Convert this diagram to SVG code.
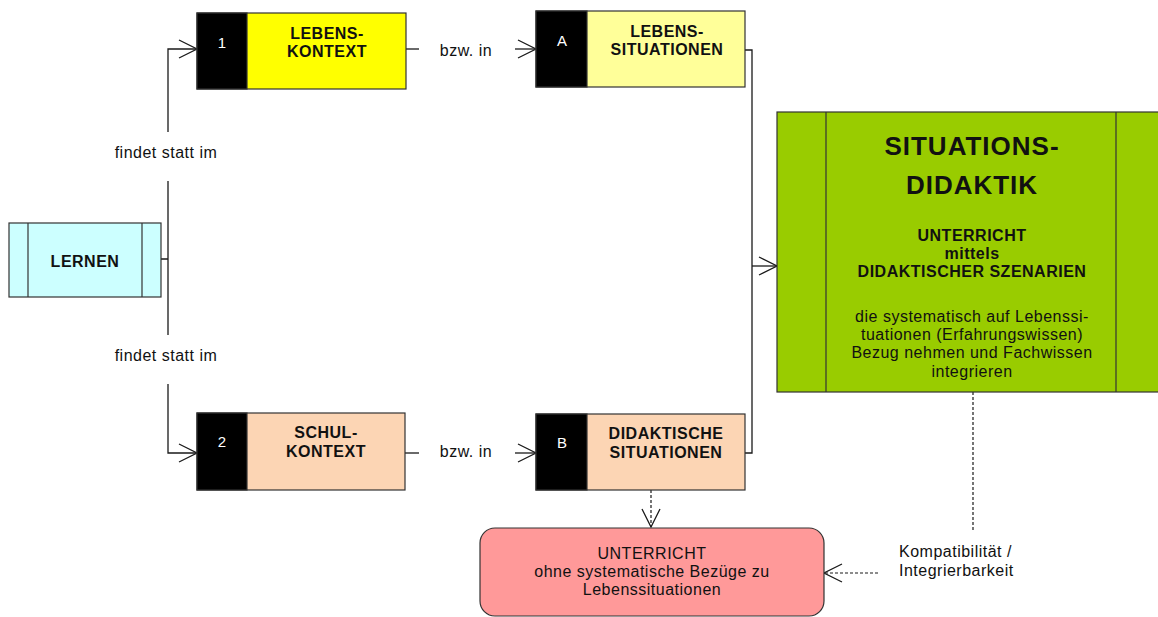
<svg xmlns="http://www.w3.org/2000/svg" width="1158" height="617" viewBox="0 0 1158 617">
  <style>
    .box { stroke: #333; stroke-width: 1.2; }
    .blk { fill: #000; stroke: #333; stroke-width: 1.2; }
    .ln { fill: none; stroke: #1a1a1a; stroke-width: 1.3; }
    .dash { fill: none; stroke: #1a1a1a; stroke-width: 1.2; stroke-dasharray: 3 2; }
    text { font-family: "Liberation Sans", Arial, sans-serif; fill: #111; }
    .b16 { font-size: 16px; font-weight: bold; letter-spacing: 0.5px; text-anchor: middle; }
    .n15 { font-size: 16px; letter-spacing: 0.5px; }
    .num { font-size: 15px; fill: #fff; text-anchor: middle; }
    .big { font-size: 26px; font-weight: bold; letter-spacing: 1px; text-anchor: middle; }
    .mid { text-anchor: middle; }
  </style>
  <defs>
    <marker id="arr" markerUnits="userSpaceOnUse" viewBox="0 0 20 20" refX="19" refY="10" markerWidth="20" markerHeight="20" orient="auto">
      <path d="M1,1 L19,10 L1,19" fill="none" stroke="#1a1a1a" stroke-width="1.3" stroke-dasharray="none"/>
    </marker>
  </defs>

  <g id="connectors">
    <path class="ln" d="M161,259 H168 M168,259 V181 M168,132 V49 H197" marker-end="url(#arr)"/>
    <path class="ln" d="M168,259 V335 M168,384 V453 H197" marker-end="url(#arr)"/>
    <path class="ln" d="M406,49 H419"/>
    <path class="ln" d="M515,49 H536" marker-end="url(#arr)"/>
    <path class="ln" d="M405,453 H419"/>
    <path class="ln" d="M515,453 H536" marker-end="url(#arr)"/>
    <path class="ln" d="M745,50 H752 V453 H745"/>
    <path class="ln" d="M752,266 H777" marker-end="url(#arr)"/>
    <path class="dash" d="M651,490 V527" marker-end="url(#arr)"/>
    <path class="dash" d="M973,392 V530"/>
    <path class="dash" d="M878,573 H824" marker-end="url(#arr)"/>
    <text class="n15 mid" x="166" y="158">findet statt im</text>
    <text class="n15 mid" x="166" y="361">findet statt im</text>
    <text class="n15 mid" x="466" y="56">bzw. in</text>
    <text class="n15 mid" x="466" y="457">bzw. in</text>
    <text class="n15" x="899" y="557">Kompatibilität /</text>
    <text class="n15" x="899" y="576">Integrierbarkeit</text>
  </g>

  <g id="lernen">
    <rect class="box" x="9" y="223" width="152" height="74" fill="#CCFFFF"/>
    <line class="box" x1="28" y1="223" x2="28" y2="297"/>
    <line class="box" x1="142" y1="223" x2="142" y2="297"/>
    <text class="b16" x="85" y="267">LERNEN</text>
  </g>

  <g id="lebenskontext">
    <rect class="box" x="197" y="13" width="209" height="76" fill="#FFFF00"/>
    <rect class="blk" x="197" y="13" width="50" height="76"/>
    <text class="num" x="222" y="48">1</text>
    <text class="b16" x="327" y="39">LEBENS-</text>
    <text class="b16" x="327" y="57">KONTEXT</text>
  </g>

  <g id="lebenssituationen">
    <rect class="box" x="536" y="11" width="209" height="76" fill="#FFFF99"/>
    <rect class="blk" x="536" y="11" width="51" height="76"/>
    <text class="num" x="562" y="46">A</text>
    <text class="b16" x="667" y="37">LEBENS-</text>
    <text class="b16" x="667" y="55">SITUATIONEN</text>
  </g>

  <g id="schulkontext">
    <rect class="box" x="197" y="413" width="208" height="77" fill="#FCD5B4"/>
    <rect class="blk" x="197" y="413" width="50" height="77"/>
    <text class="num" x="222" y="447">2</text>
    <text class="b16" x="326" y="438">SCHUL-</text>
    <text class="b16" x="326" y="457">KONTEXT</text>
  </g>

  <g id="didaktische-situationen">
    <rect class="box" x="536" y="414" width="209" height="76" fill="#FCD5B4"/>
    <rect class="blk" x="536" y="414" width="51" height="76"/>
    <text class="num" x="562" y="448">B</text>
    <text class="b16" x="666" y="439">DIDAKTISCHE</text>
    <text class="b16" x="666" y="458">SITUATIONEN</text>
  </g>

  <g id="situationsdidaktik">
    <rect class="box" x="777" y="112" width="400" height="280" fill="#99CC00"/>
    <line class="box" x1="826" y1="112" x2="826" y2="392"/>
    <line class="box" x1="1116" y1="112" x2="1116" y2="392"/>
    <text class="big" x="972" y="155">SITUATIONS-</text>
    <text class="big" x="972" y="194">DIDAKTIK</text>
    <text class="b16" x="972" y="241">UNTERRICHT</text>
    <text class="b16" x="972" y="259">mittels</text>
    <text class="b16" x="972" y="277">DIDAKTISCHER SZENARIEN</text>
    <text class="n15 mid" x="972" y="322">die systematisch auf Lebenssi-</text>
    <text class="n15 mid" x="972" y="340">tuationen (Erfahrungswissen)</text>
    <text class="n15 mid" x="972" y="358">Bezug nehmen und Fachwissen</text>
    <text class="n15 mid" x="972" y="377">integrieren</text>
  </g>

  <g id="unterricht-ohne">
    <rect class="box" x="480" y="528" width="344" height="88" rx="15" ry="15" fill="#FF9999"/>
    <text class="n15 mid" x="652" y="559">UNTERRICHT</text>
    <text class="n15 mid" x="652" y="577">ohne systematische Bezüge zu</text>
    <text class="n15 mid" x="652" y="595">Lebenssituationen</text>
  </g>
</svg>
